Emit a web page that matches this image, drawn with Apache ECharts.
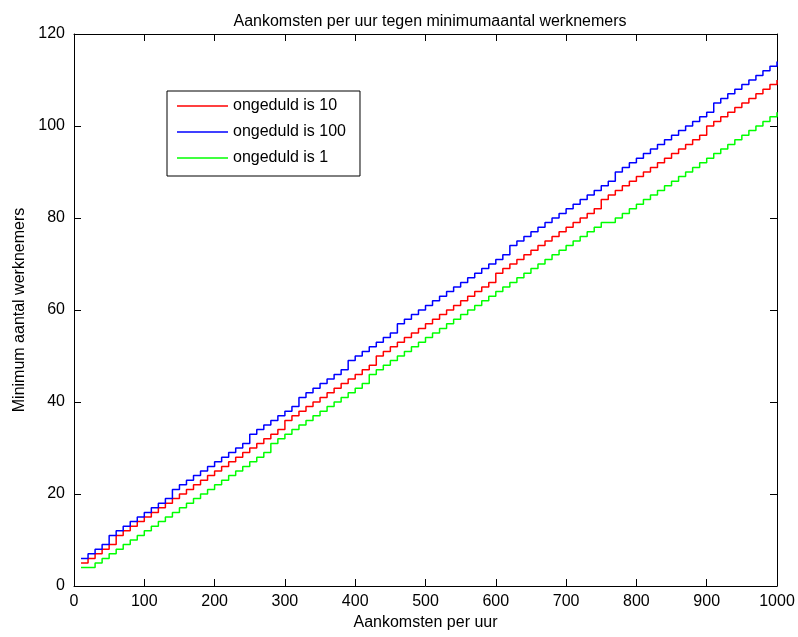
<!DOCTYPE html>
<html>
<head>
<meta charset="utf-8">
<script src="https://cdn.jsdelivr.net/npm/echarts@6/dist/echarts.min.js"></script>
<style>
html,body{margin:0;padding:0;background:#fff;}
#chart{width:798px;height:637px;}
</style>
</head>
<body>
<div id="chart"></div>
<script>
const titleText = 'Aankomsten per uur tegen minimumaantal werknemers';
const xName = 'Aankomsten per uur';
const yName = 'Minimum aantal werknemers';
const seriesNames = ['ongeduld is 10', 'ongeduld is 100', 'ongeduld is 1'];

const arrivals = [10,20,30,40,50,60,70,80,90,100,110,120,130,140,150,160,170,180,190,200,
210,220,230,240,250,260,270,280,290,300,310,320,330,340,350,360,370,380,390,400,
410,420,430,440,450,460,470,480,490,500,510,520,530,540,550,560,570,580,590,600,
610,620,630,640,650,660,670,680,690,700,710,720,730,740,750,760,770,780,790,800,
810,820,830,840,850,860,870,880,890,900,910,920,930,940,950,960,970,980,990,1000];

const ongeduld10 = [5,6,7,8,9,11,12,13,14,15,16,17,18,19,20,21,22,23,24,25,
26,27,28,29,30,31,32,33,34,36,37,38,39,40,41,42,43,44,45,46,
47,48,50,51,52,53,54,55,56,57,58,59,60,61,62,63,64,65,66,68,
69,70,71,72,73,74,75,76,77,78,79,80,81,82,84,85,86,87,88,89,
90,91,92,93,94,95,96,97,98,100,101,102,103,104,105,106,107,108,109,110];

const ongeduld100 = [6,7,8,9,11,12,13,14,15,16,17,18,19,21,22,23,24,25,26,27,
28,29,30,31,33,34,35,36,37,38,39,41,42,43,44,45,46,47,49,50,
51,52,53,54,55,57,58,59,60,61,62,63,64,65,66,67,68,69,70,71,
72,74,75,76,77,78,79,80,81,82,83,84,85,86,87,88,90,91,92,93,
94,95,96,97,98,99,100,101,102,103,105,106,107,108,109,110,111,112,113,114];

const ongeduld1 = [4,4,5,6,7,8,9,10,11,12,13,14,15,16,17,18,19,20,21,22,
23,24,25,26,27,28,29,31,32,33,34,35,36,37,38,39,40,41,42,43,
44,46,47,48,49,50,51,52,53,54,55,56,57,58,59,60,61,62,63,64,
65,66,67,68,69,70,71,72,73,74,75,76,77,78,79,79,80,81,82,83,
84,85,86,87,88,89,90,91,92,93,94,95,96,97,98,99,100,101,102,103];

const xTicks = {min: 0, max: 1000, interval: 100};
const yTicks = {min: 0, max: 120, interval: 20};

const seriesValues = [ongeduld10, ongeduld100, ongeduld1];
const colors = ['#ff0000', '#0000ff', '#00ff00'];
const FONT = '"Liberation Sans", Arial, sans-serif';

const chart = echarts.init(document.getElementById('chart'), null, {renderer: 'canvas'});

const axisLine = {show: true, onZero: false, lineStyle: {color: '#000', width: 1}};
const tick = {show: true, inside: true, length: 7, lineStyle: {color: '#000', width: 1}};
const labelStyle = {color: '#000', fontSize: 16, fontFamily: FONT};

const option = {
  backgroundColor: '#fff',
  animation: false,
  title: {
    text: titleText,
    left: 425, textAlign: 'center',
    top: 9,
    textStyle: {fontSize: 16, fontWeight: 'normal', color: '#000', fontFamily: FONT}
  },
  grid: {left: 74, right: 21, top: 34, bottom: 51, containLabel: false},
  legend: {
    orient: 'vertical',
    left: 167, top: 91,
    padding: [7, 14, 10, 10],
    icon: 'rect',
    itemWidth: 51, itemHeight: 1.5, itemGap: 10,
    backgroundColor: '#fff',
    borderColor: '#000', borderWidth: 1, borderRadius: 0,
    textStyle: {color: '#000', fontSize: 16, fontFamily: FONT, lineHeight: 16},
    data: seriesNames
  },
  xAxis: [{
    type: 'value', position: 'bottom',
    min: xTicks.min, max: xTicks.max, interval: xTicks.interval,
    name: xName, nameLocation: 'middle', nameGap: 22,
    nameTextStyle: labelStyle,
    axisLine: axisLine, axisTick: tick,
    axisLabel: Object.assign({margin: 8, formatter: v => String(v)}, labelStyle),
    splitLine: {show: false}
  }, {
    type: 'value', position: 'top',
    min: xTicks.min, max: xTicks.max, interval: xTicks.interval,
    axisLine: axisLine, axisTick: tick,
    axisLabel: {show: false}, splitLine: {show: false}
  }],
  yAxis: [{
    type: 'value', position: 'left',
    min: yTicks.min, max: yTicks.max, interval: yTicks.interval,
    name: yName, nameLocation: 'middle', nameGap: 46, nameRotate: 90,
    nameTextStyle: labelStyle,
    axisLine: axisLine, axisTick: tick,
    axisLabel: Object.assign({margin: 9, formatter: v => String(v)}, labelStyle),
    splitLine: {show: false}
  }, {
    type: 'value', position: 'right',
    min: yTicks.min, max: yTicks.max, interval: yTicks.interval,
    axisLine: axisLine, axisTick: tick,
    axisLabel: {show: false}, splitLine: {show: false}
  }],
  series: seriesNames.map((name, i) => ({
    name: name,
    type: 'line',
    step: 'end',
    symbol: 'none',
    color: colors[i],
    lineStyle: {color: colors[i], width: 1.5},
    data: arrivals.map((x, k) => [x, seriesValues[i][k]])
  }))
};
chart.setOption(option);
</script>
</body>
</html>
